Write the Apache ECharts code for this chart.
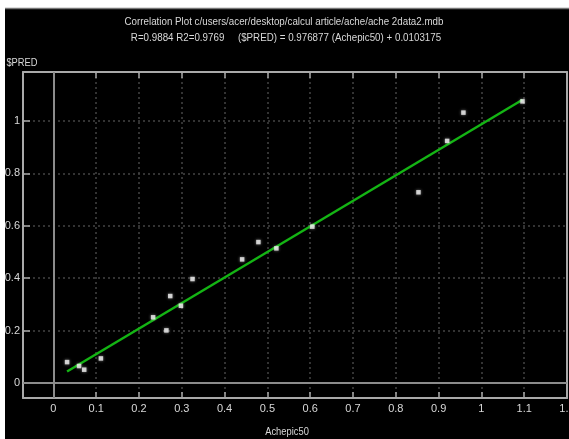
<!DOCTYPE html>
<html>
<head>
<meta charset="utf-8">
<script src="https://cdn.jsdelivr.net/npm/echarts@6/dist/echarts.min.js"></script>
<style>
html,body{margin:0;padding:0;background:#fff;}
#chart{width:569px;height:439px;}
</style>
</head>
<body>
<div id="chart"></div>
<script>
// Data
var titleLine1 = 'Correlation Plot c/users/acer/desktop/calcul article/ache/ache 2data2.mdb';
var titleLine2 = 'R=0.9884 R2=0.9769     ($PRED) = 0.976877 (Achepic50) + 0.0103175';
var xName = 'Achepic50';
var yName = '$PRED';
var xTicks = [0, 0.1, 0.2, 0.3, 0.4, 0.5, 0.6, 0.7, 0.8, 0.9, 1, 1.1, 1.2];
var yTicks = [0, 0.2, 0.4, 0.6, 0.8, 1];
var obsX = [0.032, 0.060, 0.072, 0.111, 0.233, 0.264, 0.273, 0.298, 0.325, 0.441, 0.479, 0.521, 0.605, 0.853, 0.920, 0.958, 1.096];
var predY = [0.080, 0.065, 0.051, 0.094, 0.251, 0.201, 0.332, 0.295, 0.397, 0.472, 0.538, 0.514, 0.597, 0.728, 0.924, 1.032, 1.075];
var fitX = [0.032, 1.096];
var fitY = [0.044, 1.081];

var FONT = '"Liberation Sans", Arial, sans-serif';
var txtColor = '#d8d8d8';
var frameColor = '#a9a9a9';

var chart = echarts.init(document.getElementById('chart'), null, {renderer: 'canvas'});

var pts = obsX.map(function (x, i) { return [x, predY[i]]; });
var fit = fitX.map(function (x, i) { return [x, fitY[i]]; });

var option = {
  backgroundColor: '#000',
  animation: false,
  graphic: [
    {type: 'rect', shape: {x: 0, y: 0, width: 569, height: 8}, style: {fill: '#fff'}, z: 100},
    {type: 'rect', shape: {x: 0, y: 0, width: 5, height: 439}, style: {fill: '#fff'}, z: 100},
    {type: 'line', shape: {x1: 5, y1: 8.5, x2: 569, y2: 8.5}, style: {stroke: '#777', lineWidth: 1.5}, z: 100},
    {type: 'text', x: 284, y: 22, scaleX: 0.85, style: {text: titleLine1, fill: txtColor, font: '11.5px ' + FONT, align: 'center', verticalAlign: 'middle'}},
    {type: 'text', x: 286, y: 38, scaleX: 0.85, style: {text: titleLine2, fill: txtColor, font: '11.5px ' + FONT, align: 'center', verticalAlign: 'middle'}},
    {type: 'text', x: 22, y: 63, scaleX: 0.85, style: {text: yName, fill: txtColor, font: '11px ' + FONT, align: 'center', verticalAlign: 'middle'}},
    {type: 'text', x: 287, y: 432, scaleX: 0.85, style: {text: xName, fill: txtColor, font: '11px ' + FONT, align: 'center', verticalAlign: 'middle'}}
  ],
  grid: {left: 23, right: 2, top: 72, bottom: 41, containLabel: false, outerBoundsMode: 'none'},
  xAxis: [{
    type: 'value', min: -0.071, max: 1.2, position: 'bottom',
    axisLine: {onZero: false, lineStyle: {color: frameColor, width: 2}},
    axisTick: {inside: true, length: 6, customValues: xTicks, lineStyle: {color: frameColor, width: 1.5}},
    axisLabel: {customValues: xTicks, color: txtColor, fontSize: 11, fontFamily: FONT, margin: 5, hideOverlap: false},
    splitLine: {show: true, lineStyle: {color: '#444', type: [2, 3], width: 1.5}}
  }, {
    type: 'value', min: -0.071, max: 1.2, position: 'top',
    axisLine: {onZero: false, lineStyle: {color: frameColor, width: 2}},
    axisTick: {inside: true, length: 6, customValues: xTicks, lineStyle: {color: frameColor, width: 1.5}},
    axisLabel: {show: false},
    splitLine: {show: false}
  }],
  yAxis: [{
    type: 'value', min: -0.057, max: 1.187, position: 'left',
    axisLine: {onZero: false, lineStyle: {color: frameColor, width: 2}},
    axisTick: {inside: true, length: 7, customValues: yTicks, lineStyle: {color: frameColor, width: 1.5}},
    axisLabel: {customValues: yTicks, color: txtColor, fontSize: 11, fontFamily: FONT, margin: 3},
    splitLine: {show: true, lineStyle: {color: '#444', type: [2, 3], width: 1.5}}
  }, {
    type: 'value', min: -0.057, max: 1.187, position: 'right',
    axisLine: {onZero: false, lineStyle: {color: frameColor, width: 2}},
    axisTick: {show: false},
    axisLabel: {show: false},
    splitLine: {show: false}
  }],
  series: [{
    type: 'scatter',
    data: pts,
    symbol: 'rect',
    symbolSize: 4.5,
    itemStyle: {color: '#f2f2f2', shadowBlur: 3, shadowColor: 'rgba(255,255,255,0.6)'},
    z: 5,
    markLine: {
      silent: true, symbol: 'none', label: {show: false},
      lineStyle: {color: '#8c8c8c', type: 'solid', width: 2},
      data: [{xAxis: 0}, {yAxis: 0}],
      z: 2
    }
  }, {
    type: 'line',
    data: fit,
    showSymbol: false,
    symbol: 'none',
    lineStyle: {color: '#14b414', width: 2.5},
    z: 4
  }]
};
chart.setOption(option);
</script>
</body>
</html>
